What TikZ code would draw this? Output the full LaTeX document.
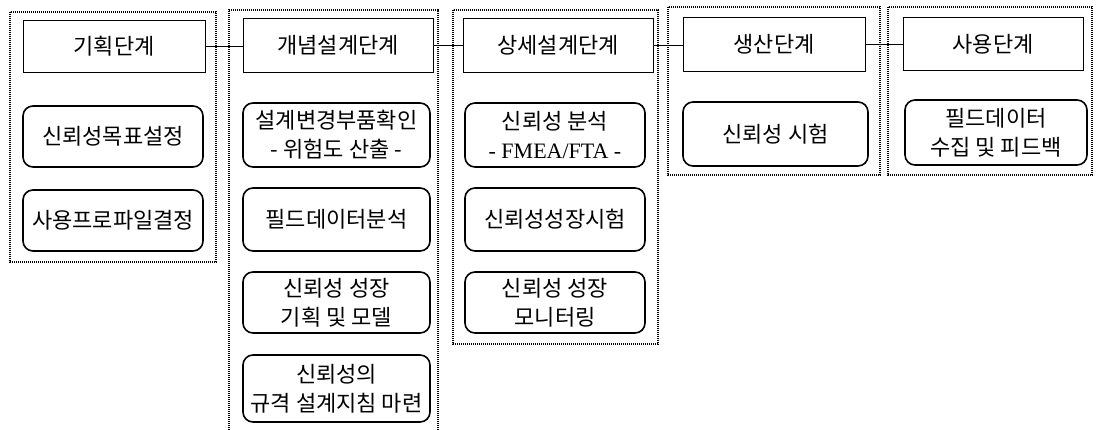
\documentclass[tikz,border=0pt]{standalone}
\usepackage{fontspec}
\setmainfont{Noto Sans CJK KR}
\newfontfamily\latinserif{Liberation Serif}
\begin{document}
\begin{tikzpicture}[x=1pt,y=-1pt,
  grp/.style={line width=1.3pt,dash pattern=on 1.2pt off 0.8pt},
  head/.style={draw,line width=0.9pt,rectangle,inner sep=0pt,font=\fontsize{22}{29}\selectfont},
  task/.style={draw,line width=1.6pt,rounded corners=10pt,inner sep=0pt,align=center,font=\fontsize{22}{29}\selectfont},
  link/.style={line width=0.9pt}]
\useasboundingbox (0,0) rectangle (1097,430);
% group frames
\draw[grp] (10,12) rectangle (216,262);
\draw[grp] (229,432) -- (229,10) -- (438,10) -- (438,432);
\draw[grp] (453,10) rectangle (658,344);
\draw[grp] (668,7) rectangle (880,175);
\draw[grp] (888,7) rectangle (1092,175);
% headers
\node[head,minimum width=182pt,minimum height=52pt] (h1) at (114,46) {기획단계};
\node[head,minimum width=190pt,minimum height=54pt] (h2) at (338,45) {개념설계단계};
\node[head,minimum width=190pt,minimum height=54pt] (h3) at (558,45) {상세설계단계};
\node[head,minimum width=182pt,minimum height=54pt] (h4) at (774,44) {생산단계};
\node[head,minimum width=180pt,minimum height=53pt] (h5) at (993,44) {사용단계};
% connectors
\draw[link] (h1.east) -- (h1.east -| h2.west);
\draw[link] (h2.east) -- (h2.east -| h3.west);
\draw[link] (h3.east) -- (h3.east -| h4.west);
\draw[link] (h4.east) -- (h4.east -| h5.west);
% tasks group 1
\node[task,minimum width=180pt,minimum height=61pt] (a1) at (113,136.5) {신뢰성목표설정};
\node[task,minimum width=180pt,minimum height=61pt] (a2) at (113,220.5) {사용프로파일결정};
% tasks group 2
\node[task,minimum width=187pt,minimum height=64pt] (b1) at (336.5,135) {설계변경부품확인\\- 위험도 산출 -};
\node[task,minimum width=187pt,minimum height=63pt] (b2) at (336.5,219.5) {필드데이터분석};
\node[task,minimum width=187pt,minimum height=61pt] (b3) at (336.5,302.5) {신뢰성 성장\\기획 및 모델};
\node[task,minimum width=187pt,minimum height=67pt] (b4) at (336.5,388.5) {신뢰성의\\규격 설계지침 마련};
% tasks group 3
\node[task,minimum width=180pt,minimum height=64pt] (c1) at (555,135) {신뢰성 분석\\{\latinserif\fontsize{22}{29}\selectfont - FMEA/FTA -}};
\node[task,minimum width=180pt,minimum height=63pt] (c2) at (555,219.5) {신뢰성성장시험};
\node[task,minimum width=180pt,minimum height=61pt] (c3) at (555,302.5) {신뢰성 성장\\모니터링};
% group 4
\node[task,minimum width=185pt,minimum height=64pt] (d1) at (775.5,134) {신뢰성 시험};
% group 5
\node[task,minimum width=182pt,minimum height=65pt] (e1) at (996,132.5) {필드데이터\\수집 및 피드백};
\end{tikzpicture}
\end{document}
